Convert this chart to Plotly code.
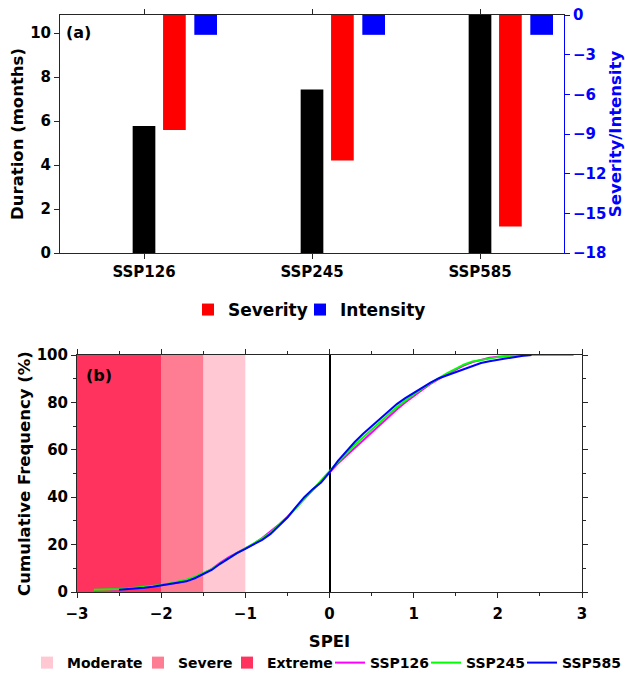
import plotly.graph_objects as go

# ---------------- data ----------------
scenarios = ["SSP126", "SSP245", "SSP585"]
duration = [5.78, 7.44, 10.83]          # months (left axis)
severity = [-8.7, -11.0, -16.0]          # right axis
intensity = [-1.5, -1.5, -1.5]           # right axis

drought_classes = ["Moderate", "Severe", "Extreme"]
class_lower = [-1.5, -2.0, -3.0]
class_upper = [-1.0, -1.5, -2.0]
class_colors = ["#FFC8D2", "#FF7D93", "#FF335E"]

spei_126 = [-2.6, -2.5, -2.4, -2.3, -2.2, -2.1, -2.0, -1.9, -1.8, -1.7, -1.6, -1.5, -1.4, -1.3, -1.2, -1.1,
            -1.0, -0.9, -0.8, -0.7, -0.6, -0.5, -0.4, -0.3, -0.2, -0.1, 0.0, 0.1, 0.2, 0.3, 0.4, 0.5, 0.6,
            0.7, 0.8, 0.9, 1.0, 1.1, 1.2, 1.3, 1.4, 1.5, 1.6, 1.7, 1.8, 1.9, 2.0, 2.1, 2.2, 2.3, 2.4]
cdf_126 = [1.0, 1.2, 1.4, 1.7, 2.0, 2.4, 2.8, 3.3, 3.9, 4.8, 6.1, 7.8, 9.7, 12.3, 14.6, 16.5,
           18.3, 20.3, 22.8, 25.5, 28.5, 31.8, 35.6, 39.4, 42.8, 46.6, 50.8, 54.2, 57.5, 60.8, 64.0, 67.3, 70.6,
           73.8, 77.0, 80.0, 82.8, 85.3, 87.8, 90.0, 92.0, 93.8, 95.6, 97.0, 98.0, 98.8, 99.3, 99.6, 99.8, 99.9, 100.0]

spei_245 = [-2.8, -2.7, -2.6, -2.5, -2.4, -2.3, -2.2, -2.1, -2.0, -1.9, -1.8, -1.7, -1.6, -1.5, -1.4, -1.3,
            -1.2, -1.1, -1.0, -0.9, -0.8, -0.7, -0.6, -0.5, -0.4, -0.3, -0.2, -0.1, 0.0, 0.1, 0.2, 0.3, 0.4,
            0.5, 0.6, 0.7, 0.8, 0.9, 1.0, 1.1, 1.2, 1.3, 1.4, 1.5, 1.6, 1.7, 1.8, 1.9, 2.0, 2.1, 2.2, 2.3,
            2.4, 2.5, 2.6, 2.7, 2.8, 2.9]
cdf_245 = [1.0, 1.0, 1.1, 1.3, 1.5, 1.8, 2.1, 2.5, 3.0, 3.6, 4.3, 5.2, 6.4, 7.9, 9.6, 12.0,
           14.3, 16.4, 18.4, 20.4, 22.6, 25.0, 28.2, 31.5, 35.3, 39.3, 43.2, 47.0, 51.0, 54.8, 58.6, 62.0, 65.3,
           68.6, 71.8, 74.9, 78.0, 80.8, 83.4, 85.8, 88.2, 90.3, 92.4, 94.3, 96.0, 97.3, 98.0, 98.6, 99.1, 99.5,
           99.8, 99.9, 100.0, 100.0, 100.0, 100.0, 100.0, 100.0]

spei_585 = [-2.5, -2.4, -2.3, -2.2, -2.1, -2.0, -1.9, -1.8, -1.7, -1.6, -1.5, -1.4, -1.3, -1.2, -1.1,
            -1.0, -0.9, -0.8, -0.7, -0.6, -0.5, -0.4, -0.3, -0.2, -0.1, 0.0, 0.1, 0.2, 0.3, 0.4, 0.5, 0.6,
            0.7, 0.8, 0.9, 1.0, 1.1, 1.2, 1.3, 1.4, 1.5, 1.6, 1.7, 1.8, 1.9, 2.0, 2.1, 2.2, 2.3, 2.4]
cdf_585 = [1.0, 1.2, 1.4, 1.8, 2.2, 2.7, 3.3, 3.9, 4.5, 5.8, 7.4, 9.3, 11.9, 14.2, 16.4,
           18.2, 20.0, 22.0, 24.5, 27.8, 31.4, 35.8, 40.0, 43.4, 46.2, 50.5, 55.3, 59.3, 63.3, 66.8, 70.0, 73.0,
           76.2, 79.3, 81.8, 84.0, 86.2, 88.3, 90.2, 91.5, 92.6, 94.2, 95.5, 96.6, 97.4, 98.0, 98.7, 99.3, 99.7, 100.0]

left_ticks = [0, 2, 4, 6, 8, 10]
right_ticks = [0, -3, -6, -9, -12, -15, -18]
spei_ticks = [-3, -2, -1, 0, 1, 2, 3]
freq_ticks = [0, 20, 40, 60, 80, 100]

# ---------------- figure ----------------
FONT = "DejaVu Sans"
AX = "#262626"
W, H = 625, 678

fig = go.Figure()

bw = 0.135
fig.add_trace(go.Bar(x=scenarios, y=duration, width=bw, offset=-bw / 2, marker=dict(color="black", line_width=0),
                     showlegend=False, xaxis="x", yaxis="y", name="Duration"))
fig.add_trace(go.Bar(x=scenarios, y=severity, width=bw, offset=0.181 - bw / 2,
                     marker=dict(color="#FF0000", line_width=0), name="Severity",
                     xaxis="x", yaxis="y2", legend="legend"))
fig.add_trace(go.Bar(x=scenarios, y=intensity, width=bw, offset=0.367 - bw / 2,
                     marker=dict(color="#0000FF", line_width=0), name="Intensity",
                     xaxis="x", yaxis="y2", legend="legend2"))

# drought classes shading
for i, (nm, lo, hi, c) in enumerate(zip(drought_classes, class_lower, class_upper, class_colors)):
    fig.add_trace(go.Bar(x=[lo], y=[100], base=0, width=[hi - lo], offset=0,
                         marker=dict(color=c, line_width=0), name=nm,
                         xaxis="x2", yaxis="y3", legend=f"legend{i + 3}"))

line_specs = [("SSP126", spei_126, cdf_126, "#FF00FF"),
              ("SSP245", spei_245, cdf_245, "#00FF00"),
              ("SSP585", spei_585, cdf_585, "#0000FF")]
for j, (nm, xs, ys, c) in enumerate(line_specs):
    fig.add_trace(go.Scatter(x=xs, y=ys, mode="lines", line=dict(color=c, width=2), name=nm,
                             xaxis="x2", yaxis="y3", legend=f"legend{j + 6}"))


def px_x(p):
    return p / W


def px_y(p):
    return 1 - p / H


top_x = [px_x(60), px_x(564)]
top_y = [px_y(253), px_y(15)]
bot_x = [px_x(77), px_x(582)]
bot_y = [px_y(592), px_y(355)]

tickfont = dict(family=FONT, size=15, color="black", weight="bold")
titlefont = dict(family=FONT, size=16.5, color="black", weight="bold")

layout = dict(
    width=W, height=H,
    margin=dict(l=0, r=0, t=0, b=0, pad=0, autoexpand=False),
    paper_bgcolor="white", plot_bgcolor="white",
    font=dict(family=FONT, size=15, color="black", weight="bold"),
    barmode="overlay",
    hovermode=False,
    xaxis=dict(domain=top_x, anchor="y", type="category", categoryorder="array", categoryarray=scenarios,
               range=[-0.5, 2.5], showline=True, linecolor=AX, linewidth=1, mirror="ticks", automargin=False,
               ticks="outside", ticklen=5, tickcolor=AX, tickfont=tickfont, showgrid=False, zeroline=False),
    yaxis=dict(domain=top_y, anchor="x", range=[0, 10.83], tickvals=left_ticks, showline=True, linecolor=AX,
               ticks="outside", ticklen=5, tickcolor=AX, tickfont=tickfont, showgrid=False, zeroline=False,
               automargin=False,
               title=dict(text="Duration (months)", font=titlefont, standoff=2)),
    yaxis2=dict(domain=top_y, anchor="x", overlaying="y", side="right", range=[-18, 0], tickvals=right_ticks,
                showline=True, linecolor="#0000FF", ticks="outside", ticklen=5, tickcolor="#0000FF",
                tickfont=dict(family=FONT, size=15, color="#0000FF", weight="bold"), showgrid=False,
                zeroline=False, automargin=False,
                title=dict(text="Severity/Intensity", standoff=4,
                           font=dict(family=FONT, size=16.5, color="#0000FF", weight="bold"))),
    xaxis2=dict(domain=bot_x, anchor="y3", range=[-3, 3], tickvals=spei_ticks, showline=True, linecolor=AX,
                mirror="allticks", ticks="outside", ticklen=5, tickcolor=AX, tickfont=tickfont,
                ticklabelstandoff=3,
                minor=dict(dtick=0.5, ticks="outside", ticklen=3, tickcolor=AX), automargin=False,
                showgrid=False, zeroline=True, zerolinecolor="black", zerolinewidth=2,
                title=dict(text="SPEI", font=titlefont, standoff=13)),
    yaxis3=dict(domain=bot_y, anchor="x2", range=[0, 100], tickvals=freq_ticks, showline=True, linecolor=AX,
                mirror="allticks", ticks="outside", ticklen=5, tickcolor=AX, tickfont=tickfont,
                minor=dict(dtick=10, ticks="outside", ticklen=3, tickcolor=AX), automargin=False,
                showgrid=False, zeroline=False,
                title=dict(text="Cumulative Frequency (%)", font=titlefont, standoff=1)),
    annotations=[
        dict(text="(a)", x=px_x(64), y=px_y(33), xref="paper", yref="paper", xanchor="left", yanchor="middle",
             showarrow=False, font=dict(family=FONT, size=16, color="black", weight="bold")),
        dict(text="(b)", x=px_x(84), y=px_y(375), xref="paper", yref="paper", xanchor="left",
             yanchor="middle", showarrow=False, font=dict(family=FONT, size=16, color="black", weight="bold")),
    ],
)

top_text_starts = [228, 340]
for k, ts in enumerate(top_text_starts):
    key = "legend" if k == 0 else f"legend{k + 1}"
    layout[key] = dict(orientation="h", x=px_x(ts - 40), xanchor="left", y=px_y(310), yanchor="middle",
                       bgcolor="rgba(0,0,0,0)", borderwidth=0,
                       font=dict(family=FONT, size=17, color="black", weight="bold"))

text_starts = [67, 178, 267, 370, 466, 562]
for k, ts in enumerate(text_starts):
    layout[f"legend{k + 3}"] = dict(orientation="h", x=px_x(ts - 40), xanchor="left", y=px_y(663),
                                    yanchor="middle", bgcolor="rgba(0,0,0,0)", borderwidth=0,
                                    font=dict(family=FONT, size=14, color="black", weight="bold"))

fig.update_layout(**layout)
fig.write_html("out.html", config={"displayModeBar": False, "staticPlot": True},
               post_script="document.body.style.margin='0px';")
